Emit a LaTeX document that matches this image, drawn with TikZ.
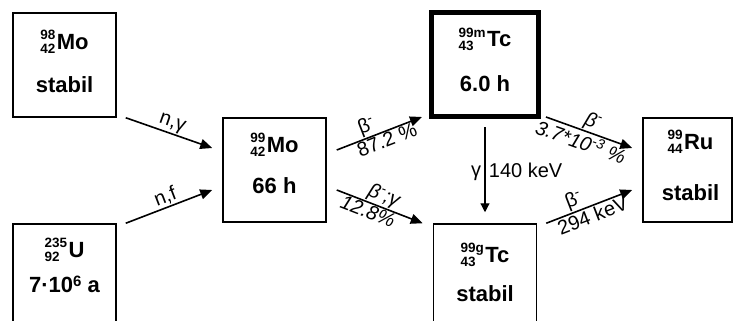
\documentclass[tikz,border=0pt]{standalone}
\usepackage{fontspec}
\setmainfont{Liberation Sans}
\usetikzlibrary{arrows.meta, positioning}

\newcommand{\boxfont}{\fontsize{22}{26}\selectfont\bfseries}
\newcommand{\isofont}{\fontsize{13.5}{13.5}\selectfont\bfseries}
\newcommand{\lblfont}{\fontsize{20}{24}\selectfont}
\newcommand{\nuc}[3]{{\isofont\raisebox{-4pt}{\begin{tabular}[b]{@{}l@{}}#1\\#2\end{tabular}}}\kern1.5pt#3}
\newcommand{\betam}{β\textsuperscript{-}}

\begin{document}
\begin{tikzpicture}[
        x=1pt, y=-1pt,
        every node/.style={font=\lblfont},
        nucbox/.style={draw, line width=1.5pt, minimum width=103pt, minimum height=104pt, inner sep=0pt},
        nucline/.style={anchor=base, font=\boxfont, inner sep=0pt},
        arr/.style={-{Triangle[length=12pt, width=10pt]}, line width=1.6pt},
        garr/.style={-{Triangle[length=9pt, width=9pt]}, line width=1.2pt},
        lbl/.style={sloped, inner sep=1pt},
    ]
    \clip (0,0) rectangle (734,321);

    %% ===== Nuclide boxes =====
    \node[nucbox] (mo98) at (64.5,65) {};
    \node[nucbox] (u235) at (64.5,276) {};
    \node[nucbox] (mo99) at (274.5,170) {};
    \node[nucbox, line width=5pt, minimum width=107pt] (tc99m) at (485,64.5) {};
    \node[nucbox] (tc99g) at (485,276) {};
    \node[nucbox, minimum width=89pt] (ru99) at (687.5,170) {};

    %% ===== Box texts =====
    \node[nucline] (mo98a) at ([yshift=-37pt]mo98.north) {\nuc{98}{42}{Mo}};
    \node[nucline] (mo98b) at ([yshift=-80.5pt]mo98.north) {stabil};
    \node[nucline] (u235a) at ([yshift=-34pt]u235.north) {\nuc{235}{92}{U}};
    \node[nucline] (u235b) at ([yshift=-69.5pt]u235.north) {7·10\raisebox{6.5pt}{\fontsize{15}{15}\selectfont 6} a};
    \node[nucline] (mo99a) at ([yshift=-35pt]mo99.north) {\nuc{99}{42}{Mo}};
    \node[nucline] (mo99b) at ([yshift=-76pt]mo99.north) {66 h};
    \node[nucline] (tc99ma) at ([yshift=-37pt]tc99m.north) {\nuc{99m}{43}{Tc}};
    \node[nucline] (tc99mb) at ([yshift=-82pt]tc99m.north) {6.0 h};
    \node[nucline] (tc99ga) at ([yshift=-39pt]tc99g.north) {\nuc{99g}{43}{Tc}};
    \node[nucline] (tc99gb) at ([yshift=-78pt]tc99g.north) {stabil};
    \node[nucline] (ru99a) at ([xshift=3pt, yshift=-32pt]ru99.north) {\nuc{99}{44}{Ru}};
    \node[nucline] (ru99b) at ([xshift=3pt, yshift=-83pt]ru99.north) {stabil};

    %% ===== Production =====
    \draw[arr] ([xshift=9pt]mo98.south east) -- node[lbl, above]{n,γ} ([xshift=-10pt, yshift=22pt]mo99.west);
    \draw[arr] ([xshift=9pt]u235.north east) -- node[lbl, above]{n,f} ([xshift=-10pt, yshift=-20pt]mo99.west);

    %% ===== Decay of Mo-99 =====
    \draw[arr] ([xshift=10pt, yshift=20pt]mo99.east) -- node[lbl, above, pos=0.4]{\betam} node[lbl, below, pos=0.55]{87.2 \%} ([xshift=-7pt, yshift=2pt]tc99m.south west);
    \draw[arr] ([xshift=10pt, yshift=-20pt]mo99.east) -- node[lbl, above, pos=0.5]{\itshape β\textsuperscript{-};γ} node[lbl, below, pos=0.4]{\itshape 12.8\%} ([xshift=-10pt]tc99g.north west);

    %% ===== Decay of Tc-99m =====
    \draw[garr] ([yshift=-8pt]tc99m.south) -- node[left, yshift=-4pt]{γ} node[right, yshift=-1pt]{140 keV} ([yshift=11pt]tc99g.north);
    \draw[arr] ([xshift=5pt, yshift=2pt]tc99m.south east) -- node[lbl, above]{\itshape\betam} node[lbl, below, pos=0.45]{\itshape 3.7*10\textsuperscript{-3} \%} ([xshift=-10pt, yshift=22pt]ru99.west);
    \draw[arr] ([xshift=9pt]tc99g.north east) -- node[lbl, above, pos=0.37]{\betam} node[lbl, below]{294 keV} ([xshift=-10pt, yshift=-20pt]ru99.west);

\end{tikzpicture}
\end{document}
